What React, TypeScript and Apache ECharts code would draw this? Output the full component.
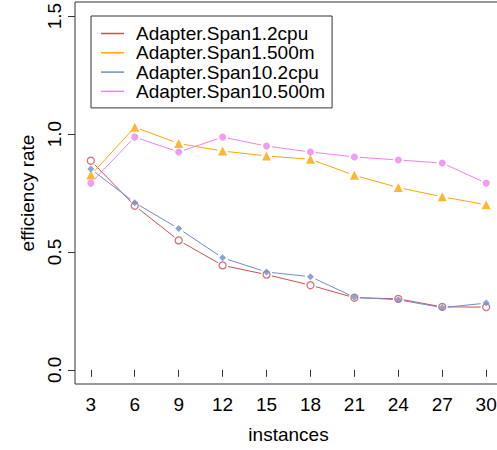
import React, { useEffect, useRef } from "react";
import * as echarts from "echarts";

const instances = [3, 6, 9, 12, 15, 18, 21, 24, 27, 30];
const span1_2cpu = [0.887, 0.696, 0.549, 0.443, 0.404, 0.359, 0.306, 0.301, 0.267, 0.266];
const span1_500m = [0.826, 1.029, 0.96, 0.928, 0.907, 0.893, 0.825, 0.773, 0.734, 0.7];
const span10_2cpu = [0.852, 0.709, 0.599, 0.475, 0.415, 0.395, 0.308, 0.297, 0.264, 0.283];
const span10_500m = [0.792, 0.987, 0.924, 0.987, 0.949, 0.924, 0.903, 0.89, 0.877, 0.792];
const seriesNames = ["Adapter.Span1.2cpu", "Adapter.Span1.500m", "Adapter.Span10.2cpu", "Adapter.Span10.500m"];
const xTicks = [3, 6, 9, 12, 15, 18, 21, 24, 27, 30];
const yTicks = [0, 0.5, 1.0, 1.5];

const FONT = "'Liberation Sans', Arial, sans-serif";

const styles = [
  { color: "#C85250", symbol: "circle", size: 7, hollow: true },
  { color: "#FFA500", symbol: "triangle", size: 9, hollow: false },
  { color: "#6E8EC8", symbol: "diamond", size: 7, hollow: false },
  { color: "#EE82EE", symbol: "circle", size: 7, hollow: false },
];

const values = [span1_2cpu, span1_500m, span10_2cpu, span10_500m];

export default function App() {
  const ref = useRef<HTMLDivElement>(null);
  useEffect(() => {
    if (!ref.current) return;
    const chart = echarts.init(ref.current, null, { renderer: "svg" });
    const series: any[] = [];
    values.forEach((vals, si) => {
      const st = styles[si];
      const segs: number[][] = [];
      for (let i = 0; i < instances.length - 1; i++) {
        segs.push([instances[i], vals[i], instances[i + 1], vals[i + 1]]);
      }
      series.push({
        type: "custom",
        name: seriesNames[si],
        data: segs,
        encode: { x: [0, 2], y: [1, 3] },
        z: 2,
        renderItem: (params: any, api: any) => {
          const a = api.coord([api.value(0), api.value(1)]);
          const b = api.coord([api.value(2), api.value(3)]);
          const dx = b[0] - a[0];
          const dy = b[1] - a[1];
          const len = Math.hypot(dx, dy);
          const g = 5.5;
          if (len <= 2 * g) return { type: "group", children: [] };
          const ux = dx / len;
          const uy = dy / len;
          return {
            type: "line",
            shape: { x1: a[0] + ux * g, y1: a[1] + uy * g, x2: b[0] - ux * g, y2: b[1] - uy * g },
            style: { stroke: st.color, lineWidth: 1, fill: null },
          };
        },
      });
      series.push({
        type: "scatter",
        name: seriesNames[si],
        data: instances.map((x, i) => [x, vals[i]]),
        symbol: st.symbol,
        symbolSize: st.size,
        z: 3,
        itemStyle: st.hollow
          ? { color: "rgba(0,0,0,0)", borderColor: st.color, borderWidth: 1.3 }
          : { color: st.color, borderWidth: 0 },
      });
    });

    chart.setOption({
      animation: false,
      backgroundColor: "#fff",
      textStyle: { fontFamily: FONT },
      grid: {
        left: 75,
        top: 2,
        width: 427,
        height: 382,
        outerBoundsMode: "none",
        containLabel: false,
        show: true,
        borderColor: "#333",
        borderWidth: 1,
        backgroundColor: "transparent",
      },
      legend: {
        orient: "vertical",
        left: 91,
        top: 16,
        padding: [8, 7, 7, 10],
        itemGap: 0.3,
        itemWidth: 23,
        itemHeight: 1.5,
        icon: "rect",
        borderColor: "#333",
        borderWidth: 1,
        backgroundColor: "#fff",
        textStyle: { fontFamily: FONT, fontSize: 19, color: "#000", lineHeight: 19, padding: [0, 0, 0, 7] },
        data: seriesNames.map((n, i) => ({ name: n, icon: "rect", itemStyle: { color: styles[i].color, borderWidth: 0 } })),
      },
      xAxis: {
        type: "value",
        min: 1.92,
        max: 31.08,
        name: "instances",
        nameLocation: "middle",
        nameGap: 41,
        nameTextStyle: { fontFamily: FONT, fontSize: 19, color: "#000" },
        axisLine: { show: false },
        splitLine: { show: false },
        axisTick: { show: true, customValues: xTicks, length: 7, lineStyle: { color: "#333" } },
        axisLabel: { customValues: xTicks, margin: 11, fontFamily: FONT, fontSize: 19, color: "#000", hideOverlap: false },
      },
      yAxis: {
        type: "value",
        min: -0.06,
        max: 1.56,
        name: "efficiency rate",
        nameLocation: "middle",
        nameRotate: 90,
        nameGap: 34,
        nameTextStyle: { fontFamily: FONT, fontSize: 19, color: "#000" },
        axisLine: { show: false },
        splitLine: { show: false },
        axisTick: { show: true, customValues: yTicks, length: 7, lineStyle: { color: "#333" } },
        axisLabel: {
          customValues: yTicks,
          rotate: 90,
          margin: 11,
          fontFamily: FONT,
          fontSize: 19,
          color: "#000",
          formatter: (v: number) => v.toFixed(1),
        },
      },
      series,
    });
    return () => chart.dispose();
  }, []);
  return <div ref={ref} style={{ position: "absolute", left: 0, top: 0, width: 497, height: 450 }} />;
}
